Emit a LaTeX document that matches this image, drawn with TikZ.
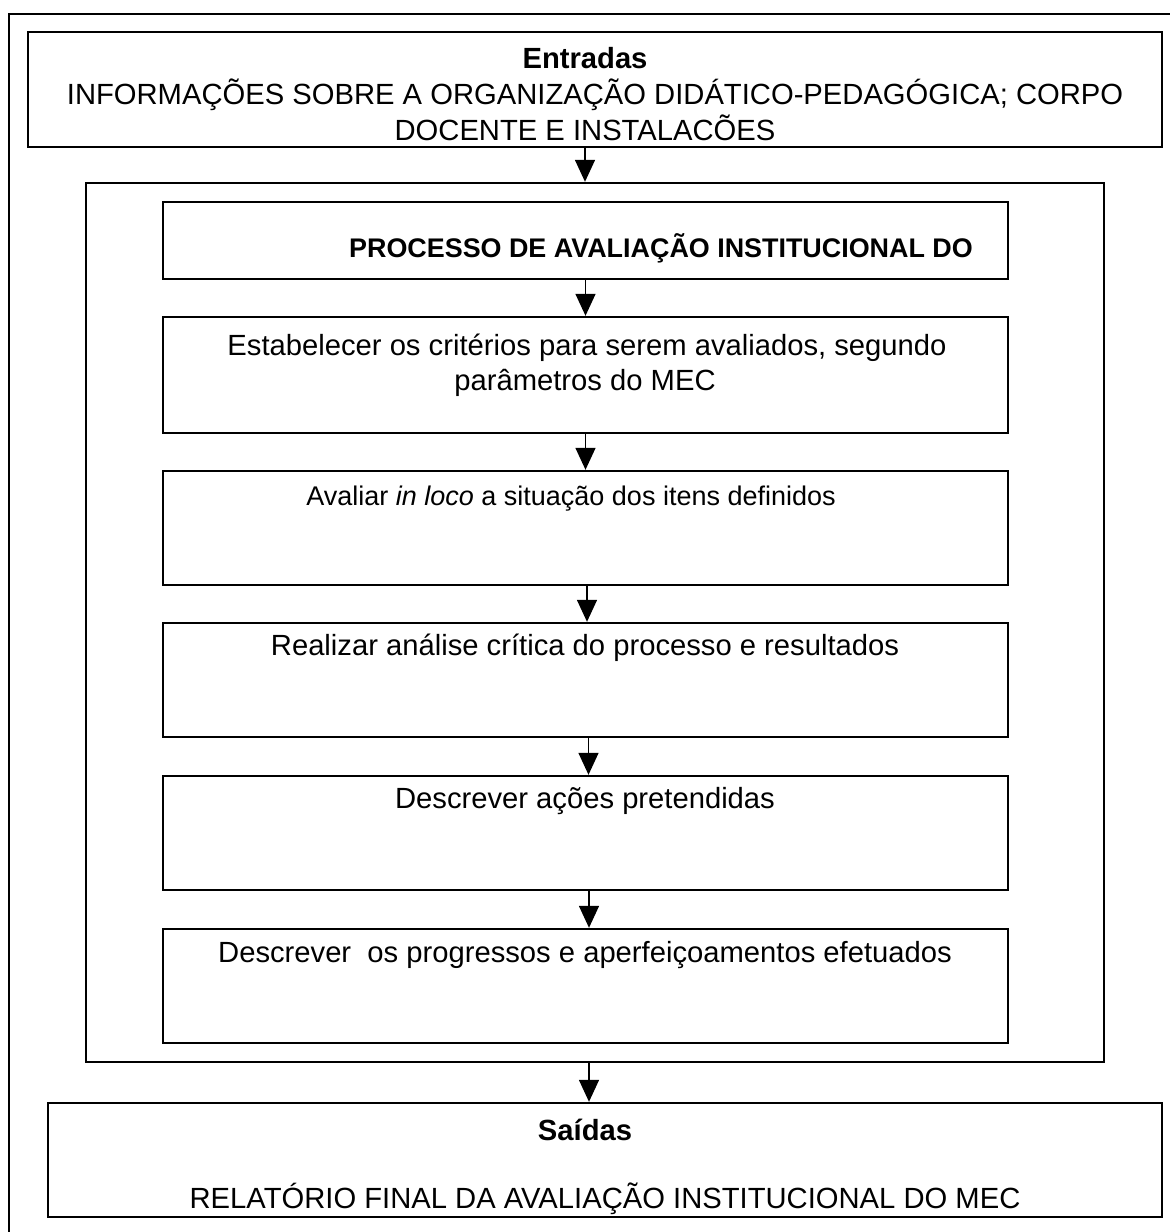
\documentclass[tikz,border=0pt]{standalone}
\usepackage{fontspec}
\setmainfont{Liberation Sans}
\usetikzlibrary{arrows.meta}
\begin{document}
\begin{tikzpicture}[x=1pt,y=-1pt,
  frame/.style={draw=black, line width=2.4pt},
  box/.style={draw=black, line width=2.4pt, inner sep=0pt, minimum width=845pt},
  big/.style={font=\fontsize{29.2}{35}\selectfont, anchor=base, inner sep=0pt},
  bigb/.style={font=\fontsize{29.2}{35}\selectfont\bfseries, anchor=base, inner sep=0pt},
  small/.style={font=\fontsize{27}{32}\selectfont, anchor=base, inner sep=0pt},
  boldsm/.style={font=\fontsize{26.9}{32}\selectfont\bfseries, anchor=base, inner sep=0pt},
  arr/.style={draw=black, line width=1.5pt, -{Triangle[width=20pt,length=22pt]}}
]
\useasboundingbox (0,0) rectangle (1170,1232);
\clip (0,0) rectangle (1170,1232);
\fill[white] (0,0) rectangle (1170,1232);

% outer frame (runs past the page on the right and bottom)
\draw[frame] (9,1250) -- (9,14) -- (1190,14);

% input box
\node[box, minimum width=1134pt, minimum height=115pt] (entradas) at (595,89.5) {};
\node[bigb] (entT) at (585,68) {Entradas};
\node[big] (entL1) at (595,104) {INFORMAÇÕES SOBRE A ORGANIZAÇÃO DIDÁTICO-PEDAGÓGICA; CORPO};
\node[big] (entL2) at (585,140) {DOCENTE E INSTALACÕES};

% process container
\node[box, minimum width=1018pt, minimum height=879pt] (proc) at (595,622.5) {};

% process steps
\node[box, minimum height=77pt] (p1) at (585.5,240.5) {};
\node[boldsm] (p1t) at (661,257) {PROCESSO DE AVALIAÇÃO INSTITUCIONAL DO};

\node[box, minimum height=116pt] (p2) at (585.5,375) {};
\node[big] (p2a) at (587,355) {Estabelecer os critérios para serem avaliados, segundo};
\node[big] (p2b) at (585,390) {parâmetros do MEC};

\node[box, minimum height=114pt] (p3) at (585.5,528) {};
\node[small] (p3t) at (571,505) {Avaliar \textit{in loco} a situação dos itens definidos};

\node[box, minimum height=114pt] (p4) at (585.5,680) {};
\node[big] (p4t) at (585,655) {Realizar análise crítica do processo e resultados};

\node[box, minimum height=114pt] (p5) at (585.5,833) {};
\node[big] (p5t) at (585,808) {Descrever ações pretendidas};

\node[box, minimum height=114pt] (p6) at (585.5,986) {};
\node[big] (p6t) at (585,962) {Descrever\ \ os progressos e aperfeiçoamentos efetuados};

% output box
\node[box, minimum width=1114pt, minimum height=114pt] (saidas) at (605,1160) {};
\node[bigb] (saiT) at (585,1140) {Saídas};
\node[big] (saiL) at (605,1208) {RELATÓRIO FINAL DA AVALIAÇÃO INSTITUCIONAL DO MEC};

% flow arrows
\draw[arr] ([xshift=-10pt]entradas.south) -- ([xshift=-10pt]proc.north);
\draw[arr] (p1.south) -- (p2.north);
\draw[arr] (p2.south) -- (p3.north);
\draw[arr] ([xshift=1.5pt]p3.south) -- ([xshift=1.5pt]p4.north);
\draw[arr] ([xshift=3pt]p4.south) -- ([xshift=3pt]p5.north);
\draw[arr] ([xshift=3.5pt]p5.south) -- ([xshift=3.5pt]p6.north);
\draw[arr] ([xshift=-6pt]proc.south) -- ([xshift=-16pt]saidas.north);
\end{tikzpicture}
\end{document}
